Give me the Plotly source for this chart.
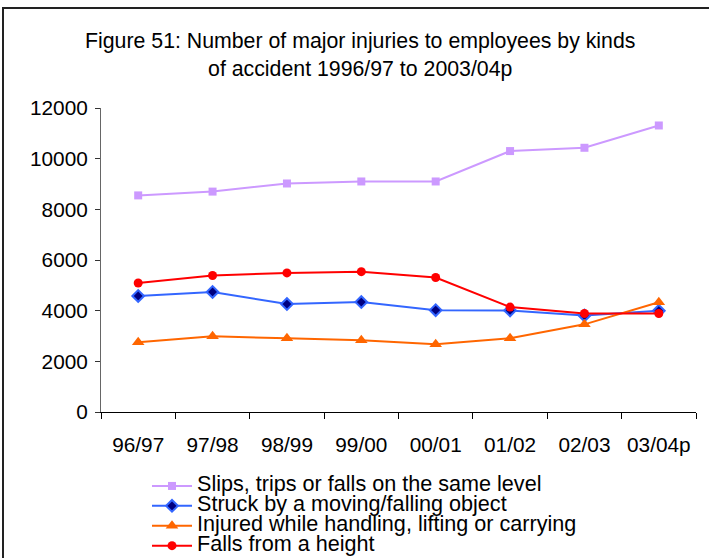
import plotly.graph_objects as go

years = ["96/97", "97/98", "98/99", "99/00", "00/01", "01/02", "02/03", "03/04p"]
slips = [8550, 8700, 9020, 9100, 9100, 10300, 10430, 11310]
struck = [4580, 4740, 4260, 4340, 4020, 4010, 3810, 4000]
handling = [2750, 2990, 2910, 2830, 2670, 2910, 3460, 4330]
falls = [5090, 5390, 5490, 5540, 5310, 4140, 3890, 3890]

names = [
    "Slips, trips or falls on the same level",
    "Struck by a moving/falling object",
    "Injured while handling, lifting or carrying",
    "Falls from a height",
]
title_lines = ["Figure 51: Number of major injuries to employees by kinds",
               "of accident 1996/97 to 2003/04p"]
y_ticks = [0, 2000, 4000, 6000, 8000, 10000, 12000]
y_ticktext = ["0", "2000", "4000", "6000", "8000", "10000", "12000"]

FONT = "Liberation Sans, Arial, sans-serif"
LEG = '<span style="font-size:21.6px">{}</span>'

fig = go.Figure()
fig.add_trace(go.Scatter(
    x=years, y=slips, name=LEG.format(names[0]), mode="lines+markers",
    line=dict(color="#CC99FF", width=2),
    marker=dict(symbol="square", size=8, color="#CC99FF")))
fig.add_trace(go.Scatter(
    x=years, y=struck, name=LEG.format(names[1]), mode="lines+markers",
    line=dict(color="#3366FF", width=2),
    marker=dict(symbol="diamond", size=9, color="#000080",
                line=dict(color="#3366FF", width=2))))
fig.add_trace(go.Scatter(
    x=years, y=handling, name=LEG.format(names[2]), mode="lines+markers",
    line=dict(color="#FF6600", width=2),
    marker=dict(symbol="triangle-up", size=11, color="#FF6600")))
fig.add_trace(go.Scatter(
    x=years, y=falls, name=LEG.format(names[3]), mode="lines+markers",
    line=dict(color="#FF0000", width=2),
    marker=dict(symbol="circle", size=9, color="#FF0000")))

L, T, PW, PH = 101, 108, 595, 304
W, H = 709, 558

def px(x):
    return (x - L) / PW

def py(y):
    return 1 + (T - y) / PH

fig.update_layout(
    width=W, height=H,
    margin=dict(l=L, r=W - L - PW, t=T, b=H - T - PH, autoexpand=False),
    paper_bgcolor="white", plot_bgcolor="white",
    font=dict(family=FONT, size=20, color="black"),
    showlegend=True,
    legend=dict(x=px(147), y=py(471), xanchor="left", yanchor="top",
                font=dict(family=FONT, size=13, color="black"),
                bgcolor="rgba(0,0,0,0)", itemwidth=40, borderwidth=0),
    xaxis=dict(type="category", range=[-0.5, 7.5], showgrid=False,
               showline=True, linecolor="black", linewidth=1,
               ticks="outside", ticklen=6, tickcolor="black",
               tickson="boundaries", ticklabelstandoff=14,
               tickfont=dict(size=20.8, color="black"), zeroline=False),
    yaxis=dict(range=[0, 12000], tickvals=y_ticks, ticktext=y_ticktext,
               showgrid=False,
               showline=True, linecolor="#666666", linewidth=1,
               ticks="outside", ticklen=5, tickcolor="#333333",
               ticklabelstandoff=3, zeroline=False,
               tickfont=dict(size=20.8, color="black")),
    shapes=[dict(type="rect", xref="paper", yref="paper",
                 x0=px(3), x1=px(730), y0=py(600), y1=py(8),
                 line=dict(color="#222222", width=2),
                 fillcolor="rgba(0,0,0,0)", layer="above")],
    annotations=[dict(text="<br>".join(title_lines), xref="paper", yref="paper",
                      x=px(360), y=py(55), xanchor="center", yanchor="middle",
                      showarrow=False, font=dict(family=FONT, size=21.3, color="black"))],
)

fig.write_html("out.html", config={"displayModeBar": False},
               post_script="document.body.style.margin='0';")
